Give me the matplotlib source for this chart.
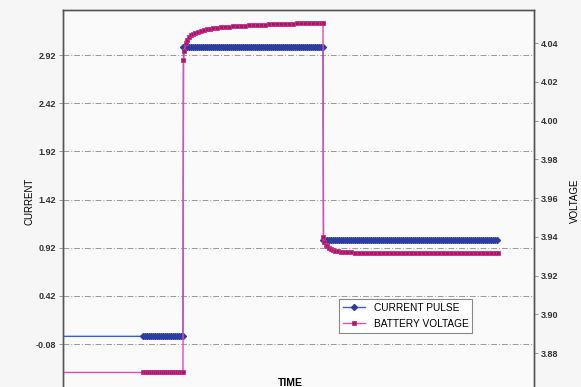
import matplotlib.pyplot as plt
import numpy as np

plt.rcParams['font.family'] = ['Liberation Sans', 'DejaVu Sans']

# Datos (tiempo en unidades arbitrarias)
t_current = [0] + list(range(80, 121, 2)) + [120.5] + list(range(122, 261, 2)) + [260.5] + list(range(262, 436, 2))
i_current = [0.0] + [0.0] * 21 + [3.0] + [3.0] * 70 + [1.0] + [1.0] * 87

t_v_base = [0] + list(range(80, 121, 2))
v_base = [3.870] * 22

t_v_pulse = [120.5, 121.5, 123, 124.5, 126, 128, 130, 132, 135, 138, 141, 144, 147, 150, 154, 158, 162,
             166, 170, 174, 178, 182, 186, 190, 194, 198, 202, 206, 210, 214, 218, 222, 226, 230, 234,
             238, 242, 246, 250, 254, 258, 260]
v_pulse = [4.031, 4.036, 4.040, 4.0418, 4.0430, 4.0440, 4.0447, 4.0452, 4.0458, 4.0463, 4.0467, 4.0470,
           4.0473, 4.0476, 4.0479, 4.0481, 4.0483, 4.0485, 4.0487, 4.0488, 4.0489, 4.0490, 4.0491,
           4.0492, 4.0493, 4.0494, 4.0495, 4.0496, 4.0497, 4.0497, 4.0498, 4.0499, 4.0500, 4.0500,
           4.0501, 4.0502, 4.0502, 4.0503, 4.0503, 4.0504, 4.0505, 4.0505]

t_v_rest = [260.5, 261.5, 263, 264.5, 266, 268, 270, 272, 275, 278, 281, 284, 288] + list(range(292, 433, 4)) + [435]
v_rest = [3.940, 3.9375, 3.9360, 3.9350, 3.9342, 3.9336, 3.9331, 3.9328, 3.9325, 3.9323, 3.9322,
          3.9321, 3.9320] + [3.9318] * 36 + [3.9318]

t_voltage = t_v_base + t_v_pulse + t_v_rest
v_voltage = v_base + v_pulse + v_rest

left_ticks = [-0.08, 0.42, 0.92, 1.42, 1.92, 2.42, 2.92]
right_ticks = [3.88, 3.90, 3.92, 3.94, 3.96, 3.98, 4.00, 4.02, 4.04]

fig = plt.figure(figsize=(5.81, 3.87), dpi=100, facecolor='#f6f6f6')
ax = fig.add_axes([0.1084, -0.013, 0.8107, 0.987])
ax.set_facecolor('#fafafa')
ax2 = ax.twinx()

l1, = ax.plot(t_current, i_current, color='#3a5fc8', linewidth=1.0, marker='D', markersize=3,
              markerfacecolor='#2b3d9e', markeredgecolor='#2b3d9e', label='CURRENT PULSE')
l2, = ax2.plot(t_voltage, v_voltage, color='#e04cb8', linewidth=1.0, marker='s', markersize=3.2,
               markerfacecolor='#9c1f66', markeredgecolor='#d02a8a', markeredgewidth=0.6,
               label='BATTERY VOLTAGE')
# sin marcador en el primer punto (inicio de la linea en el borde)
l1.set_markevery(list(range(1, len(t_current))))
l2.set_markevery(list(range(1, len(t_voltage))))

ax.set_xlim(0, 471)
ax.set_ylim(-0.578, 3.387)
ax2.set_ylim(3.8599, 4.057)

ax.set_xticks([])
ax.set_yticks(left_ticks)
ax.set_yticklabels([f'{v:.2f}' for v in left_ticks])
ax2.set_yticks(right_ticks)
ax2.set_yticklabels([f'{v:.2f}' for v in right_ticks])

for a in (ax, ax2):
    a.tick_params(axis='y', labelsize=6.5, length=3, width=0.6, color='#888888', pad=2)
    for s in a.spines.values():
        s.set_color('#555555')
        s.set_linewidth(1.0)
for lab in ax.get_yticklabels() + ax2.get_yticklabels():
    lab.set_fontweight('bold')
    lab.set_color('#333333')

ax.grid(axis='y', color='#999999', linestyle='-.', linewidth=0.7, dashes=(6, 2, 1, 2))

ax.set_ylabel('CURRENT', fontsize=7, labelpad=1)
ax2.set_ylabel('VOLTAGE', fontsize=7, labelpad=8)
fig.text(290 / 581, 1 - 383 / 387, 'TIME', fontsize=7.5, fontweight='bold', ha='center', va='center')

leg = ax2.legend(handles=[l1, l2], loc='lower left', bbox_to_anchor=((334 - 63) / 471, 0.141),
                 fontsize=7.3, frameon=True, fancybox=False, edgecolor='#888888', framealpha=1,
                 handlelength=2.2, borderpad=0.4, labelspacing=0.6)
leg.get_frame().set_linewidth(0.8)

plt.savefig('out.png', dpi=100, facecolor=fig.get_facecolor())
